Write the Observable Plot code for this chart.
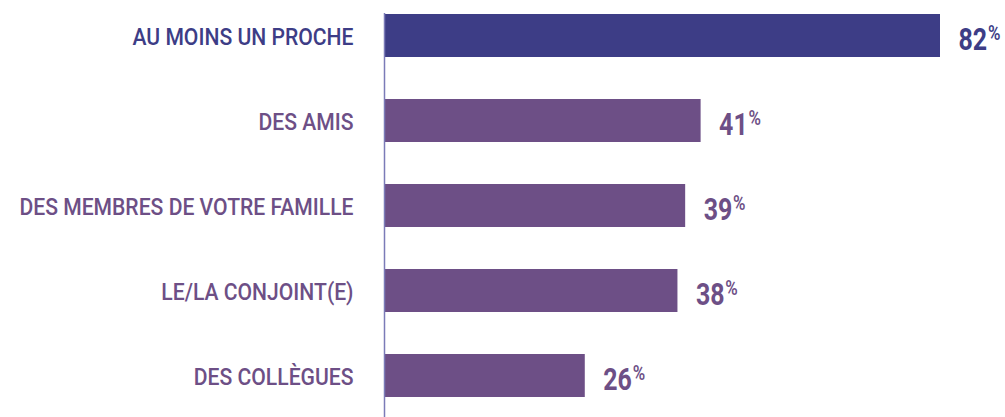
<!DOCTYPE html>
<html>
<head>
<meta charset="utf-8">
<script src="https://cdn.jsdelivr.net/npm/d3@7"></script>
<script src="https://cdn.jsdelivr.net/npm/@observablehq/plot@0.6"></script>
<style>
  html, body { margin: 0; padding: 0; background: #ffffff; }
  #chart svg { display: block; }
</style>
</head>
<body>
<div id="chart"></div>
<script>
const categories = ["AU MOINS UN PROCHE", "DES AMIS", "DES MEMBRES DE VOTRE FAMILLE", "LE/LA CONJOINT(E)", "DES COLLÈGUES"];
const values = [82, 41, 39, 38, 26];

const data = categories.map((c, i) => ({category: c, value: values[i]}));

const navy = "#3d3d86";
const purple = "#6d4f86";
const colorOf = d => d.category === categories[0] ? navy : purple;

const chart = Plot.plot({
  width: 1005,
  height: 417,
  marginLeft: 384,
  marginRight: 65,
  marginTop: 14,
  marginBottom: 20.5,
  style: {background: "#ffffff", fontFamily: "Roboto, sans-serif"},
  x: {domain: [0, 72], clamp: true, axis: null},
  y: {domain: categories, paddingInner: 0.5, paddingOuter: 0, axis: null},
  marks: [
    Plot.barX(data, {x: "value", y: "category", fill: colorOf}),
    Plot.ruleX([0], {stroke: "#7b7bb8", strokeWidth: 1.5, insetTop: -1, insetBottom: -21}),
    Plot.text(data, {
      x: 0, y: "category", text: "category",
      dx: -31, dy: 1, textAnchor: "end",
      fill: colorOf, fontSize: 24, fontWeight: 500
    }),
    Plot.text(data, {
      x: "value", y: "category", text: d => String(d.value),
      dx: 18, dy: 4, textAnchor: "start",
      fill: colorOf, fontSize: 31, fontWeight: 700
    })
  ]
});

document.getElementById("chart").appendChild(chart);

// condensed look: compress glyphs horizontally
const textGroups = d3.select(chart).selectAll('g[aria-label="text"]').nodes();
d3.select(textGroups[0]).selectAll("text").each(function() {
  const w = this.getComputedTextLength();
  this.setAttribute("textLength", (w * 0.88).toFixed(1));
  this.setAttribute("lengthAdjust", "spacingAndGlyphs");
});
d3.select(textGroups[1]).selectAll("text").each(function() {
  const sel = d3.select(this);
  sel.append("tspan").attr("dx", 1).attr("dy", -10).attr("font-size", 21).attr("font-weight", 600).text("%");
  const w = this.getComputedTextLength();
  this.setAttribute("textLength", (w * 0.82).toFixed(1));
  this.setAttribute("lengthAdjust", "spacingAndGlyphs");
});
</script>
</body>
</html>
